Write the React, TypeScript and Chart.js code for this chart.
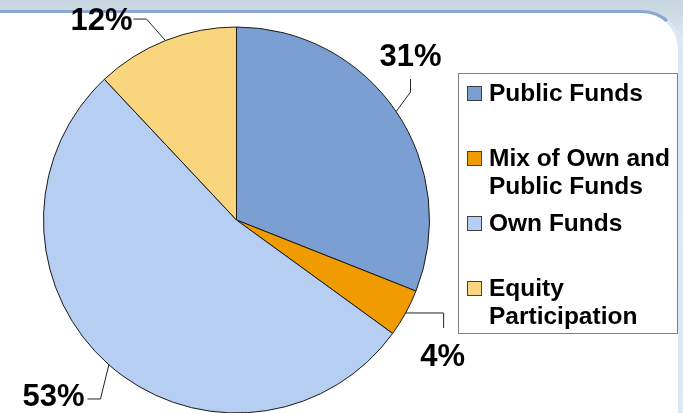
import React, { useEffect, useRef } from "react";
import { Chart, registerables } from "chart.js";

Chart.register(...registerables);

// ---- data ----
const categories = ["Public Funds", "Mix of Own and Public Funds", "Own Funds", "Equity Participation"];
const shares = [31, 4, 53, 12];
const valueLabels = ["31%", "4%", "53%", "12%"];
const sliceColors = ["#7b9fd3", "#f09c00", "#b5cef2", "#f9d57e"];

// ---- styling: leader line geometry relative to each slice's outer mid point ----
const leaderLayout = [
  { elbow: [14.4, -19.5], end: [14.4, -32.5], text: [14.4, -54.5] },
  { elbow: [38, 0], end: [38, 15], text: [37, 44] },
  { elbow: [-8.4, 34.2], end: [-21.4, 34.2], text: [-55.4, 32.2] },
  { elbow: [-19, -21.5], end: [-32, -21.5], text: [-64, -19.5] },
];

const FONT = '"Liberation Sans", Arial, Helvetica, sans-serif';

const labelPlugin = {
  id: "leaderLabels",
  afterDatasetsDraw(chart: any) {
    const ctx = chart.ctx;
    const meta = chart.getDatasetMeta(0);
    ctx.save();
    meta.data.forEach((arc: any, i: number) => {
      const { x, y, startAngle, endAngle, outerRadius } = arc.getProps(
        ["x", "y", "startAngle", "endAngle", "outerRadius"],
        true
      );
      const mid = (startAngle + endAngle) / 2;
      const ex = x + Math.cos(mid) * outerRadius;
      const ey = y + Math.sin(mid) * outerRadius;
      const L = leaderLayout[i];
      ctx.strokeStyle = "#222";
      ctx.lineWidth = 1;
      ctx.beginPath();
      ctx.moveTo(ex, ey);
      ctx.lineTo(ex + L.elbow[0], ey + L.elbow[1]);
      ctx.lineTo(ex + L.end[0], ey + L.end[1]);
      ctx.stroke();
      ctx.fillStyle = "#000";
      ctx.font = `bold 31px ${FONT}`;
      ctx.textAlign = "center";
      ctx.textBaseline = "middle";
      ctx.fillText(valueLabels[i], ex + L.text[0], ey + L.text[1]);
    });
    ctx.restore();
  },
};

const legendPlugin = {
  id: "boxLegend",
  afterDraw(chart: any) {
    const ctx = chart.ctx;
    const left = 458.5, top = 73.5, right = 677.5, bottom = 333.5;
    ctx.save();
    ctx.fillStyle = "#ffffff";
    ctx.fillRect(left, top, right - left, bottom - top);
    ctx.strokeStyle = "#7f7f7f";
    ctx.lineWidth = 1;
    ctx.strokeRect(left, top, right - left, bottom - top);
    const labels: string[] = chart.data.labels;
    const colors: string[] = chart.data.datasets[0].backgroundColor;
    const slot = (bottom - top) / labels.length;
    ctx.font = `bold 24.5px ${FONT}`;
    ctx.textBaseline = "middle";
    ctx.textAlign = "left";
    const textX = 489;
    const maxW = right - textX - 2;
    labels.forEach((lab, i) => {
      const cy = top + slot * i + 20;
      ctx.fillStyle = colors[i];
      ctx.fillRect(467.5, cy - 7, 14, 14);
      ctx.strokeStyle = "#404040";
      ctx.strokeRect(467.5, cy - 7, 14, 14);
      // word wrap
      const words = lab.split(" ");
      const lines: string[] = [];
      let cur = "";
      words.forEach((w) => {
        const t = cur ? cur + " " + w : w;
        if (ctx.measureText(t).width > maxW && cur) {
          lines.push(cur);
          cur = w;
        } else cur = t;
      });
      if (cur) lines.push(cur);
      ctx.fillStyle = "#000";
      lines.forEach((ln, k) => ctx.fillText(ln, textX, cy + 1 + k * 28));
    });
    ctx.restore();
  },
};

export default function App() {
  const ref = useRef<HTMLCanvasElement | null>(null);
  useEffect(() => {
    if (!ref.current) return;
    const chart = new Chart(ref.current, {
      type: "pie",
      data: {
        labels: categories,
        datasets: [
          {
            data: shares,
            backgroundColor: sliceColors,
            borderColor: "#1a1a1a",
            borderWidth: 1,
            hoverOffset: 0,
          },
        ],
      },
      options: {
        animation: false,
        responsive: false,
        radius: 193,
        layout: { padding: { left: 43, right: 253, top: 27, bottom: 0 } },
        plugins: {
          legend: { display: false },
          tooltip: { enabled: false },
        },
      } as any,
      plugins: [labelPlugin, legendPlugin],
    });
    return () => chart.destroy();
  }, []);

  return (
    <div
      style={{
        position: "absolute",
        left: 0,
        top: 0,
        width: 683,
        height: 413,
        overflow: "hidden",
        background: "linear-gradient(#c6d5df, #cbd9e3 10px, #dde9f5 40px, #e2edf8)",
      }}
    >
      <div
        style={{
          position: "absolute",
          left: -10,
          top: 10,
          width: 692,
          height: 460,
          boxSizing: "border-box",
          background: "#ffffff",
          borderTop: "3px solid #8da7d4",
          borderRight: "4px solid #dbe7f5",
          borderTopRightRadius: 40,
        }}
      />
      <canvas
        ref={ref}
        width={683}
        height={413}
        style={{ position: "absolute", left: 0, top: 0, width: 683, height: 413 }}
      />
    </div>
  );
}
